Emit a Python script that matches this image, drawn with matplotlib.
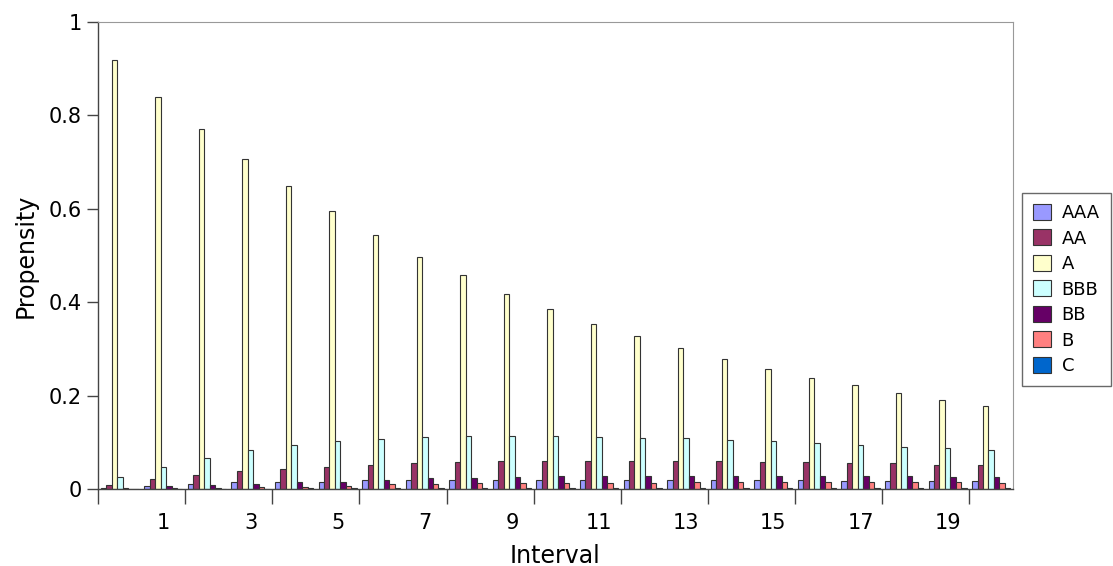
import matplotlib
matplotlib.use("Agg")
import matplotlib.pyplot as plt
import numpy as np
from matplotlib.patches import Patch

intervals = np.arange(21)
tick_labels = ["1", "3", "5", "7", "9", "11", "13", "15", "17", "19"]
ratings = ["AAA", "AA", "A", "BBB", "BB", "B", "C"]

aaa = [0.003, 0.007, 0.011, 0.014, 0.014, 0.016, 0.019, 0.020, 0.020, 0.020, 0.020,
       0.020, 0.020, 0.020, 0.020, 0.020, 0.020, 0.018, 0.018, 0.018, 0.018]
aa = [0.009, 0.022, 0.030, 0.039, 0.043, 0.048, 0.051, 0.055, 0.057, 0.059, 0.059,
      0.059, 0.059, 0.059, 0.059, 0.057, 0.057, 0.055, 0.055, 0.052, 0.052]
a = [0.918, 0.839, 0.771, 0.707, 0.649, 0.595, 0.544, 0.497, 0.458, 0.418, 0.385,
     0.353, 0.328, 0.302, 0.278, 0.257, 0.238, 0.223, 0.206, 0.190, 0.177]
bbb = [0.025, 0.048, 0.067, 0.084, 0.094, 0.102, 0.107, 0.112, 0.114, 0.114, 0.113,
       0.111, 0.109, 0.109, 0.104, 0.102, 0.099, 0.095, 0.091, 0.088, 0.084]
bb = [0.002, 0.006, 0.008, 0.011, 0.014, 0.016, 0.019, 0.024, 0.024, 0.026, 0.027,
      0.028, 0.028, 0.028, 0.028, 0.028, 0.028, 0.028, 0.028, 0.026, 0.026]
b = [0.001, 0.002, 0.003, 0.005, 0.005, 0.006, 0.010, 0.011, 0.012, 0.013, 0.013,
     0.013, 0.013, 0.014, 0.014, 0.014, 0.014, 0.014, 0.014, 0.014, 0.013]
c = [0.000, 0.001, 0.001, 0.001, 0.002, 0.002, 0.002, 0.003, 0.003, 0.003, 0.003,
     0.003, 0.003, 0.003, 0.003, 0.003, 0.003, 0.003, 0.003, 0.003, 0.003]
series = [aaa, aa, a, bbb, bb, b, c]

colors = ["#9999FF", "#993366", "#FFFFCC", "#CCFFFF", "#660066", "#FF8080", "#0066CC"]
EDGE = "#333333"
W = 0.125

fig = plt.figure(figsize=(11.13, 5.66), dpi=100)
ax = fig.add_axes([98 / 1113, 1 - 489 / 566, (1013 - 98) / 1113, (489 - 22) / 566])

for i, (vals, col) in enumerate(zip(series, colors)):
    ax.bar(intervals + (i - 3) * W, vals, width=W, color=col, edgecolor=EDGE, lw=0.8)

ax.set_xlim(-0.5, 20.5)
ax.set_ylim(0, 1)

# major ticks at group boundaries, labels on odd intervals without marks
ax.set_xticks(np.arange(-0.5, 20, 2))
ax.set_xticklabels([])
ax.set_xticks(np.arange(1, 20, 2), minor=True)
ax.set_xticklabels(tick_labels, minor=True)
ax.tick_params(axis="x", which="major", length=11, width=1, color="#444")
ax.tick_params(axis="x", which="minor", length=0, labelsize=15, pad=17)

ax.set_yticks([0, 0.2, 0.4, 0.6, 0.8, 1])
ax.set_yticklabels(["0", "0.2", "0.4", "0.6", "0.8", "1"])
ax.tick_params(axis="y", length=8, width=1, color="#444", labelsize=15)

ax.set_xlabel("Interval", fontsize=17, labelpad=8)
ax.set_ylabel("Propensity", fontsize=17, labelpad=8)

for s in ("left", "bottom"):
    ax.spines[s].set_color("#444")
    ax.spines[s].set_linewidth(1.0)
for s in ("top", "right"):
    ax.spines[s].set_color("#999")
    ax.spines[s].set_linewidth(0.8)

handles = [Patch(facecolor=col, edgecolor=EDGE, lw=0.8) for col in colors]
fig.legend(handles, ratings, loc="upper left", bbox_to_anchor=(1022 / 1113, 1 - 193 / 566),
           fontsize=13, frameon=True, fancybox=False, edgecolor="#444",
           handlelength=1.0, handleheight=1.0, handletextpad=0.6,
           labelspacing=0.4, borderpad=0.6, borderaxespad=0)

fig.savefig("out.png", dpi=100)
